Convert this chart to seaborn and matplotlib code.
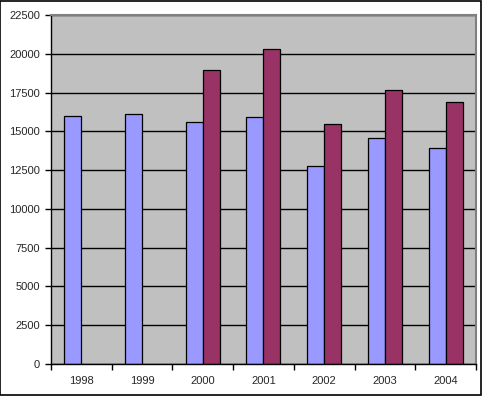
import numpy as np
import pandas as pd
import matplotlib
matplotlib.use("Agg")
import matplotlib.pyplot as plt
import seaborn as sns
from matplotlib.patches import Rectangle

# Values
years = ["1998", "1999", "2000", "2001", "2002", "2003", "2004"]
series1 = [16000, 16100, 15600, 15950, 12750, 14550, 13950]
series2 = [np.nan, np.nan, 18950, 20300, 15500, 17650, 16870]
yticks = list(range(0, 22501, 2500))

df = pd.DataFrame({
    "year": years * 2,
    "value": series1 + series2,
    "series": ["Series1"] * len(years) + ["Series2"] * len(years),
})

sns.set_style("white")
plt.rcParams["font.family"] = ["Liberation Sans", "DejaVu Sans"]

fig = plt.figure(figsize=(4.82, 3.96), dpi=100)
ax = fig.add_axes([51 / 482, 32 / 396, 425 / 482, 349 / 396])

sns.barplot(data=df, x="year", y="value", hue="series",
            palette=["#9999FF", "#993366"], width=0.56,
            edgecolor="black", linewidth=0.9, saturation=1,
            legend=False, ax=ax)

ax.set_facecolor("#C0C0C0")
ax.set_ylim(0, 22500)
ax.set_xlim(-0.5, len(years) - 0.5)
ax.set_yticks(yticks)
ax.set_yticklabels([str(t) for t in yticks], fontsize=8)
ax.yaxis.grid(True, color="black", linewidth=1)
ax.set_axisbelow(True)
ax.set_xlabel("")
ax.set_ylabel("")

# x ticks between categories, labels at centres
ax.set_xticks(np.arange(len(years) + 1) - 0.5, minor=True)
ax.tick_params(axis="x", which="major", length=0, labelsize=8, pad=9)
ax.tick_params(axis="x", which="minor", length=4, width=1, color="black", direction="out")
ax.tick_params(axis="y", length=4, width=1, color="black", direction="out", pad=4)
ax.xaxis.set_tick_params(bottom=True, which="both")
ax.yaxis.set_tick_params(left=True)

for s in ["left", "bottom"]:
    ax.spines[s].set_color("black")
    ax.spines[s].set_linewidth(1)
for s in ["top", "right"]:
    ax.spines[s].set_color("#808080")
    ax.spines[s].set_linewidth(1.5)

# black frame around the whole chart
fig.patches.append(Rectangle((0.001, 0.002), 0.996, 0.995, transform=fig.transFigure,
                             fill=False, edgecolor="black", linewidth=1.2))

fig.savefig("out.png", dpi=100)
